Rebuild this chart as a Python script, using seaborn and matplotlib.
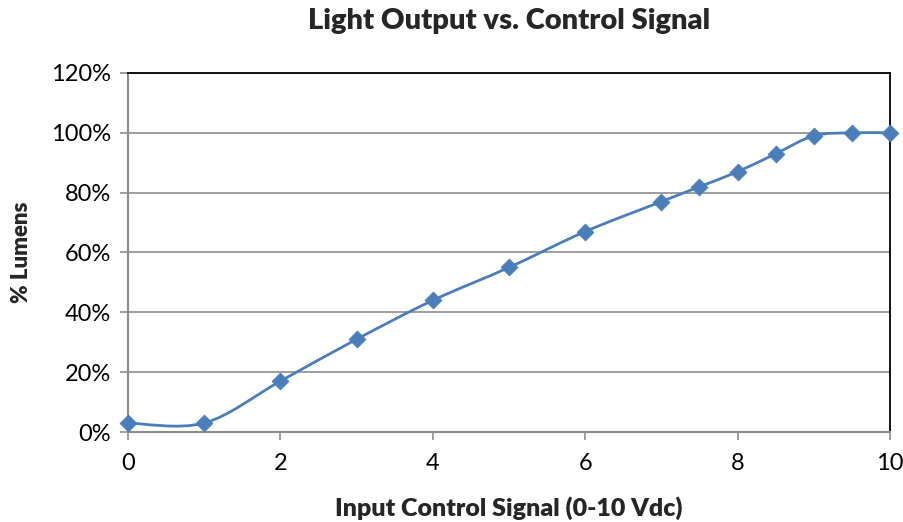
import matplotlib
matplotlib.use("Agg")
import matplotlib.pyplot as plt
import seaborn as sns
import pandas as pd
import numpy as np
from matplotlib.path import Path
from matplotlib.patches import PathPatch
from matplotlib.ticker import PercentFormatter

signal_vdc = [0, 1, 2, 3, 4, 5, 6, 7, 7.5, 8, 8.5, 9, 9.5, 10]
lumens_pct = [3, 3, 17, 31, 44, 55, 67, 77, 82, 87, 93, 99, 100, 100]

df = pd.DataFrame({"signal": signal_vdc, "lumens": lumens_pct})

sns.set_style("white")
plt.rcParams["font.family"] = ["Lato", "DejaVu Sans"]

fig = plt.figure(figsize=(9.04, 5.22), dpi=100)
ax = fig.add_axes([0.1416, 0.1724, 0.8429, 0.6878])

blue = "#4A7EBB"

# smoothed line like Excel (Catmull-Rom -> cubic Bezier)
pts = df[["signal", "lumens"]].to_numpy(dtype=float)
verts = [tuple(pts[0])]
codes = [Path.MOVETO]
n = len(pts)
for i in range(n - 1):
    p0 = pts[i - 1] if i > 0 else pts[i]
    p1 = pts[i]
    p2 = pts[i + 1]
    p3 = pts[i + 2] if i + 2 < n else pts[i + 1]
    c1 = p1 + (p2 - p0) / 6
    c2 = p2 - (p3 - p1) / 6
    verts += [tuple(c1), tuple(c2), tuple(p2)]
    codes += [Path.CURVE4] * 3
ax.add_patch(PathPatch(Path(verts, codes), facecolor="none", edgecolor=blue, lw=2, zorder=3))

sns.scatterplot(data=df, x="signal", y="lumens", marker="D", s=75, color=blue,
                edgecolor=blue, linewidth=0.5, ax=ax, zorder=4, clip_on=False)

ax.set_xlim(0, 10)
ax.set_ylim(0, 120)
ax.set_xticks([0, 2, 4, 6, 8, 10])
ax.set_yticks(range(0, 121, 20))
ax.yaxis.set_major_formatter(PercentFormatter(decimals=0))
ax.grid(axis="y", color="#8C8C8C", lw=1.2)
ax.set_axisbelow(True)

for side in ["top", "right"]:
    ax.spines[side].set_color("black")
    ax.spines[side].set_linewidth(1.3)
for side in ["left", "bottom"]:
    ax.spines[side].set_color("#8C8C8C")
    ax.spines[side].set_linewidth(1.5)
ax.spines["top"].set_zorder(5)

ax.tick_params(axis="both", direction="out", length=6, width=1.2, color="#8C8C8C",
               labelsize=17, labelcolor="black", pad=6)
ax.tick_params(axis="x", pad=9)
ax.tick_params(left=True, bottom=True)

ax.set_xlabel("Input Control Signal (0-10 Vdc)", fontsize=18, fontweight="heavy", labelpad=16)
ax.set_ylabel("% Lumens", fontsize=16, fontweight="heavy", labelpad=14)
ax.set_title("Light Output vs. Control Signal", fontsize=21, fontweight="heavy", pad=32)

fig.savefig("out.png", dpi=100)
